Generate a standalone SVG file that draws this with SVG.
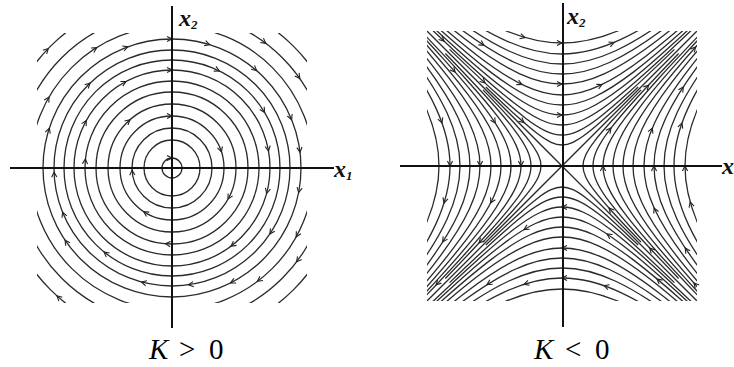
<svg xmlns="http://www.w3.org/2000/svg" xmlns:xlink="http://www.w3.org/1999/xlink" width="734" height="367" viewBox="0 0 734 367">
<style>
.traj{fill:none;stroke:#2a2a2a;stroke-width:1.3}
.axis{stroke:#111;stroke-width:2}
.lbl{font-family:"Liberation Serif","Times New Roman",serif;font-style:italic;font-weight:bold;fill:#111}
.cap{font-family:"Liberation Serif","Times New Roman",serif;fill:#000;font-size:29px}
</style>
<defs>
<clipPath id="clipL"><rect x="37" y="33" width="270" height="270"/></clipPath>
<clipPath id="clipR"><rect x="427" y="31" width="270" height="270"/></clipPath>
<path id="ah" d="M-5,-2.6 L0,0 L-5,2.6" fill="none" stroke="#222" stroke-width="1.1"/>
<path id="hyp" class="traj" vector-effect="non-scaling-stroke" d="M10.0677,-10.0179 C8.398,-8.3399 7.1407,-7.0723 6.1323,-6.0502 C5.1239,-5.0282 4.3667,-4.2539 3.7622,-3.6269 C3.1577,-2.9998 2.7073,-2.5213 2.3524,-2.1293 C1.9975,-1.7372 1.7389,-1.4324 1.5431,-1.1752 C1.3472,-0.918 1.2145,-0.709 1.1276,-0.5211 C1.0408,-0.3332 1,-0.1667 1,0 C1,0.1667 1.0408,0.3332 1.1276,0.5211 C1.2145,0.709 1.3472,0.918 1.5431,1.1752 C1.7389,1.4324 1.9975,1.7372 2.3524,2.1293 C2.7073,2.5213 3.1577,2.9998 3.7622,3.6269 C4.3667,4.2539 5.1239,5.0282 6.1323,6.0502 C7.1407,7.0723 8.398,8.3399 10.0677,10.0179"/>
<path id="hypS" class="traj" vector-effect="non-scaling-stroke" d="M3.7622,-3.6269 C3.1577,-2.9998 2.7073,-2.5213 2.3524,-2.1293 C1.9975,-1.7372 1.7389,-1.4324 1.5431,-1.1752 C1.3472,-0.918 1.2145,-0.709 1.1276,-0.5211 C1.0408,-0.3332 1,-0.1667 1,0 C1,0.1667 1.0408,0.3332 1.1276,0.5211 C1.2145,0.709 1.3472,0.918 1.5431,1.1752 C1.7389,1.4324 1.9975,1.7372 2.3524,2.1293 C2.7073,2.5213 3.1577,2.9998 3.7622,3.6269"/>
</defs>
<rect width="734" height="367" fill="#fff"/>

<!-- Left: center, K > 0 -->
<g id="center-portrait">
<g id="orbits-left" clip-path="url(#clipL)">
<circle class="traj" cx="172" cy="168" r="10"/>
<circle class="traj" cx="172" cy="168" r="28"/>
<circle class="traj" cx="172" cy="168" r="40"/>
<circle class="traj" cx="172" cy="168" r="52"/>
<circle class="traj" cx="172" cy="168" r="64"/>
<circle class="traj" cx="172" cy="168" r="76"/>
<circle class="traj" cx="172" cy="168" r="87"/>
<circle class="traj" cx="172" cy="168" r="98"/>
<circle class="traj" cx="172" cy="168" r="108"/>
<circle class="traj" cx="172" cy="168" r="118"/>
<circle class="traj" cx="172" cy="168" r="129"/>
<circle class="traj" cx="172" cy="168" r="142"/>
<circle class="traj" cx="172" cy="168" r="156"/>
<circle class="traj" cx="172" cy="168" r="172"/>
</g>
<g id="arrows-left">
<use href="#ah" transform="translate(172,168) rotate(-90) translate(10,0) rotate(90)"/>
<use href="#ah" transform="translate(172,168) rotate(-90) translate(52,0) rotate(90)"/>
<use href="#ah" transform="translate(172,168) rotate(-90) translate(98,0) rotate(90)"/>
<use href="#ah" transform="translate(172,168) rotate(-90) translate(129,0) rotate(90)"/>
<use href="#ah" transform="translate(172,168) rotate(-110) translate(129,0) rotate(90)"/>
<use href="#ah" transform="translate(172,168) rotate(-122) translate(142,0) rotate(90)"/>
<use href="#ah" transform="translate(172,168) rotate(-136) translate(172,0) rotate(90)"/>
<use href="#ah" transform="translate(172,168) rotate(-150) translate(142,0) rotate(90)"/>
<use href="#ah" transform="translate(172,168) rotate(-134) translate(118,0) rotate(90)"/>
<use href="#ah" transform="translate(172,168) rotate(-118) translate(98,0) rotate(90)"/>
<use href="#ah" transform="translate(172,168) rotate(-162) translate(129,0) rotate(90)"/>
<use href="#ah" transform="translate(172,168) rotate(-151) translate(98,0) rotate(90)"/>
<use href="#ah" transform="translate(172,168) rotate(-131) translate(64,0) rotate(90)"/>
<use href="#ah" transform="translate(172,168) rotate(-174) translate(87,0) rotate(90)"/>
<use href="#ah" transform="translate(172,168) rotate(178) translate(118,0) rotate(90)"/>
<use href="#ah" transform="translate(172,168) rotate(177) translate(40,0) rotate(90)"/>
<use href="#ah" transform="translate(172,168) rotate(-73) translate(129,0) rotate(90)"/>
<use href="#ah" transform="translate(172,168) rotate(-64) translate(108,0) rotate(90)"/>
<use href="#ah" transform="translate(172,168) rotate(-49) translate(129,0) rotate(90)"/>
<use href="#ah" transform="translate(172,168) rotate(-53) translate(156,0) rotate(90)"/>
<use href="#ah" transform="translate(172,168) rotate(-35) translate(156,0) rotate(90)"/>
<use href="#ah" transform="translate(172,168) rotate(-18) translate(52,0) rotate(90)"/>
<use href="#ah" transform="translate(172,168) rotate(-31) translate(108,0) rotate(90)"/>
<use href="#ah" transform="translate(172,168) rotate(-22) translate(129,0) rotate(90)"/>
<use href="#ah" transform="translate(172,168) rotate(-10) translate(98,0) rotate(90)"/>
<use href="#ah" transform="translate(172,168) rotate(-7) translate(129,0) rotate(90)"/>
<use href="#ah" transform="translate(172,168) rotate(15) translate(98,0) rotate(90)"/>
<use href="#ah" transform="translate(172,168) rotate(29) translate(64,0) rotate(90)"/>
<use href="#ah" transform="translate(172,168) rotate(11) translate(129,0) rotate(90)"/>
<use href="#ah" transform="translate(172,168) rotate(29) translate(142,0) rotate(90)"/>
<use href="#ah" transform="translate(172,168) rotate(34) translate(118,0) rotate(90)"/>
<use href="#ah" transform="translate(172,168) rotate(53) translate(98,0) rotate(90)"/>
<use href="#ah" transform="translate(172,168) rotate(53) translate(142,0) rotate(90)"/>
<use href="#ah" transform="translate(172,168) rotate(37) translate(156,0) rotate(90)"/>
<use href="#ah" transform="translate(172,168) rotate(63) translate(129,0) rotate(90)"/>
<use href="#ah" transform="translate(172,168) rotate(82) translate(118,0) rotate(90)"/>
<use href="#ah" transform="translate(172,168) rotate(95) translate(76,0) rotate(90)"/>
<use href="#ah" transform="translate(172,168) rotate(123) translate(52,0) rotate(90)"/>
<use href="#ah" transform="translate(172,168) rotate(105) translate(118,0) rotate(90)"/>
<use href="#ah" transform="translate(172,168) rotate(129) translate(108,0) rotate(90)"/>
<use href="#ah" transform="translate(172,168) rotate(158) translate(118,0) rotate(90)"/>
<use href="#ah" transform="translate(172,168) rotate(146) translate(129,0) rotate(90)"/>
<use href="#ah" transform="translate(172,168) rotate(132) translate(172,0) rotate(90)"/>
</g>
<g id="axes-left">
<line class="axis" x1="10" y1="168" x2="334" y2="168"/>
<line class="axis" x1="172" y1="6" x2="172" y2="328"/>
</g>
<text class="lbl" x="179" y="26" font-size="24">x<tspan font-size="13" dy="3">2</tspan></text>
<text class="lbl" x="334" y="177" font-size="24">x<tspan font-size="13" dy="3">1</tspan></text>
<text class="cap" y="359"><tspan x="149" font-style="italic">K</tspan><tspan x="179">&gt;</tspan><tspan x="209">0</tspan></text>
</g>

<!-- Right: saddle, K < 0 -->
<g id="saddle-portrait">
<g id="orbits-right" clip-path="url(#clipR)">
<line class="traj" x1="427" y1="31" x2="697" y2="301"/>
<line class="traj" x1="427" y1="301" x2="697" y2="31"/>
<g id="hyp-right">
<use href="#hypS" transform="translate(562,166) scale(21)"/>
<use href="#hypS" transform="translate(562,166) scale(31)"/>
<use href="#hyp" transform="translate(562,166) scale(41)"/>
<use href="#hyp" transform="translate(562,166) scale(51)"/>
<use href="#hyp" transform="translate(562,166) scale(61)"/>
<use href="#hyp" transform="translate(562,166) scale(71)"/>
<use href="#hyp" transform="translate(562,166) scale(82)"/>
<use href="#hyp" transform="translate(562,166) scale(92)"/>
<use href="#hyp" transform="translate(562,166) scale(102)"/>
<use href="#hyp" transform="translate(562,166) scale(112)"/>
<use href="#hyp" transform="translate(562,166) scale(123)"/>
</g>
<g id="hyp-left">
<use href="#hypS" transform="translate(562,166) scale(-21,21)"/>
<use href="#hypS" transform="translate(562,166) scale(-31,31)"/>
<use href="#hyp" transform="translate(562,166) scale(-41,41)"/>
<use href="#hyp" transform="translate(562,166) scale(-51,51)"/>
<use href="#hyp" transform="translate(562,166) scale(-61,61)"/>
<use href="#hyp" transform="translate(562,166) scale(-71,71)"/>
<use href="#hyp" transform="translate(562,166) scale(-82,82)"/>
<use href="#hyp" transform="translate(562,166) scale(-92,92)"/>
<use href="#hyp" transform="translate(562,166) scale(-102,102)"/>
<use href="#hyp" transform="translate(562,166) scale(-112,112)"/>
<use href="#hyp" transform="translate(562,166) scale(-123,123)"/>
</g>
<g id="hyp-top">
<use href="#hypS" transform="translate(562,166) rotate(-90) scale(21)"/>
<use href="#hypS" transform="translate(562,166) rotate(-90) scale(31)"/>
<use href="#hyp" transform="translate(562,166) rotate(-90) scale(41)"/>
<use href="#hyp" transform="translate(562,166) rotate(-90) scale(51)"/>
<use href="#hyp" transform="translate(562,166) rotate(-90) scale(61)"/>
<use href="#hyp" transform="translate(562,166) rotate(-90) scale(71)"/>
<use href="#hyp" transform="translate(562,166) rotate(-90) scale(82)"/>
<use href="#hyp" transform="translate(562,166) rotate(-90) scale(92)"/>
<use href="#hyp" transform="translate(562,166) rotate(-90) scale(102)"/>
<use href="#hyp" transform="translate(562,166) rotate(-90) scale(112)"/>
<use href="#hyp" transform="translate(562,166) rotate(-90) scale(123)"/>
</g>
<g id="hyp-bottom">
<use href="#hypS" transform="translate(562,166) rotate(90) scale(21)"/>
<use href="#hypS" transform="translate(562,166) rotate(90) scale(31)"/>
<use href="#hyp" transform="translate(562,166) rotate(90) scale(41)"/>
<use href="#hyp" transform="translate(562,166) rotate(90) scale(51)"/>
<use href="#hyp" transform="translate(562,166) rotate(90) scale(61)"/>
<use href="#hyp" transform="translate(562,166) rotate(90) scale(71)"/>
<use href="#hyp" transform="translate(562,166) rotate(90) scale(82)"/>
<use href="#hyp" transform="translate(562,166) rotate(90) scale(92)"/>
<use href="#hyp" transform="translate(562,166) rotate(90) scale(102)"/>
<use href="#hyp" transform="translate(562,166) rotate(90) scale(112)"/>
<use href="#hyp" transform="translate(562,166) rotate(90) scale(123)"/>
</g>
</g>
<g id="arrows-right">
<use href="#ah" transform="translate(562,43) rotate(0)"/>
<use href="#ah" transform="translate(562,84) rotate(0)"/>
<use href="#ah" transform="translate(562,115) rotate(0)"/>
<use href="#ah" transform="translate(525,37.6) rotate(16)"/>
<use href="#ah" transform="translate(484,45.4) rotate(33)"/>
<use href="#ah" transform="translate(444,41.1) rotate(43)"/>
<use href="#ah" transform="translate(485,83) rotate(43)"/>
<use href="#ah" transform="translate(522,84.5) rotate(26)"/>
<use href="#ah" transform="translate(524,122.6) rotate(41)"/>
<use href="#ah" transform="translate(614,42.5) rotate(-23)"/>
<use href="#ah" transform="translate(602,84.5) rotate(-26)"/>
<use href="#ah" transform="translate(450,166) rotate(90)"/>
<use href="#ah" transform="translate(480,166) rotate(90)"/>
<use href="#ah" transform="translate(521,166) rotate(90)"/>
<use href="#ah" transform="translate(455.1,72) rotate(49)"/>
<use href="#ah" transform="translate(442,123) rotate(70)"/>
<use href="#ah" transform="translate(495.3,123) rotate(57)"/>
<use href="#ah" transform="translate(444,203) rotate(107)"/>
<use href="#ah" transform="translate(490.7,203) rotate(117)"/>
<use href="#ah" transform="translate(442.7,242) rotate(122)"/>
<use href="#ah" transform="translate(479,243) rotate(133)"/>
<use href="#ah" transform="translate(436.1,285) rotate(133)"/>
<use href="#ah" transform="translate(603,166) rotate(-90)"/>
<use href="#ah" transform="translate(654,166) rotate(-90)"/>
<use href="#ah" transform="translate(685,166) rotate(-90)"/>
<use href="#ah" transform="translate(611,128) rotate(-52)"/>
<use href="#ah" transform="translate(648.7,85) rotate(-47)"/>
<use href="#ah" transform="translate(683.3,87) rotate(-57)"/>
<use href="#ah" transform="translate(652.4,128) rotate(-67)"/>
<use href="#ah" transform="translate(682,123) rotate(-70)"/>
<use href="#ah" transform="translate(695.7,47) rotate(-48)"/>
<use href="#ah" transform="translate(690.2,202) rotate(-106)"/>
<use href="#ah" transform="translate(654.1,208) rotate(-114)"/>
<use href="#ah" transform="translate(609,208) rotate(-132)"/>
<use href="#ah" transform="translate(685.2,248) rotate(-124)"/>
<use href="#ah" transform="translate(649.7,248) rotate(-133)"/>
<use href="#ah" transform="translate(693.9,283) rotate(-132)"/>
<use href="#ah" transform="translate(562,207) rotate(180)"/>
<use href="#ah" transform="translate(562,248) rotate(180)"/>
<use href="#ah" transform="translate(562,278) rotate(180)"/>
<use href="#ah" transform="translate(524,229.6) rotate(149)"/>
<use href="#ah" transform="translate(524,284.3) rotate(162)"/>
<use href="#ah" transform="translate(604,285.6) rotate(-161)"/>
<use href="#ah" transform="translate(607,234) rotate(-147)"/>
<use href="#ah" transform="translate(657,278.9) rotate(-140)"/>
<use href="#ah" transform="translate(487,284.7) rotate(148)"/>
</g>
<g id="axes-right">
<line class="axis" x1="400" y1="166" x2="722" y2="166"/>
<line class="axis" x1="563" y1="3" x2="563" y2="327"/>
</g>
<text class="lbl" x="567" y="24" font-size="24">x<tspan font-size="13" dy="3">2</tspan></text>
<text class="lbl" x="722" y="174" font-size="24">x</text>
<text class="cap" y="359"><tspan x="534" font-style="italic">K</tspan><tspan x="565">&lt;</tspan><tspan x="595">0</tspan></text>
</g>
</svg>
